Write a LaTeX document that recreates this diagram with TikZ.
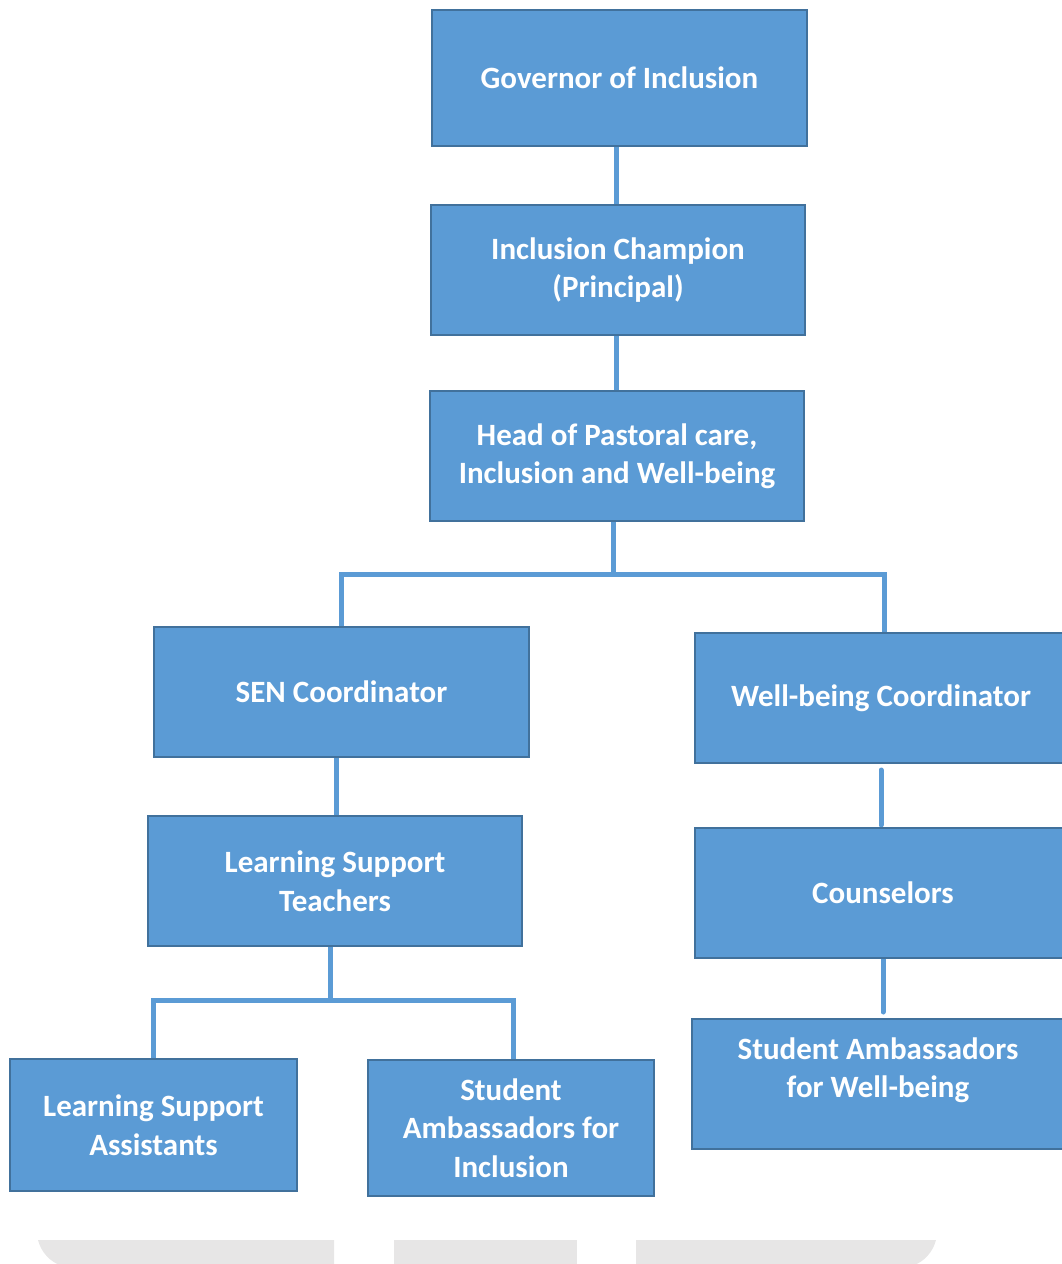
\documentclass[tikz,border=0pt]{standalone}
\usepackage{fontspec}
\setmainfont{Carlito}
\usetikzlibrary{backgrounds}
\definecolor{boxfill}{HTML}{5B9BD5}
\definecolor{boxline}{HTML}{41719C}
\definecolor{barfill}{HTML}{E7E6E6}
\begin{document}
\begin{tikzpicture}[x=1pt,y=-1pt,
  box/.style={draw=boxline, line width=2pt, fill=boxfill, text=white,
    font=\bfseries\fontsize{31}{38.5}\selectfont, align=center,
    inner sep=0pt, anchor=north west},
  lbl/.style={text=white, font=\bfseries\fontsize{31}{38.5}\selectfont, align=center, inner sep=0pt},
  conn/.style={draw=boxfill, line width=5pt, line cap=round}]
\useasboundingbox (0,0) rectangle (1062,1264);
\clip (0,0) rectangle (1062,1264);
% bottom grey bars
\fill[barfill] (38,1240) -- (334,1240) -- (334,1266) -- (62,1266)
  .. controls (50,1262) and (41,1252) .. (38,1240) -- cycle;
\fill[barfill] (394,1240) rectangle (577,1266);
\fill[barfill] (636,1240) -- (936,1240) .. controls (933,1252) and (924,1262) .. (912,1266)
  -- (636,1266) -- cycle;
% boxes
\node[box, minimum width=375pt, minimum height=136pt] (gov) at (431,9) {Governor of Inclusion};
\node[box, minimum width=374pt, minimum height=130pt] (champ) at (430,204) {Inclusion Champion\\(Principal)};
\node[box, minimum width=374pt, minimum height=130pt] (head) at (429,390) {Head of Pastoral care,\\Inclusion and Well-being};
\node[box, minimum width=375pt, minimum height=130pt] (sen) at (153,626) {SEN Coordinator};
\node[box, minimum width=372pt, minimum height=130pt] (wb) at (694,632) {Well-being Coordinator};
\node[box, minimum width=374pt, minimum height=130pt] (lst) at (147,815) {Learning Support\\Teachers};
\node[box, minimum width=376pt, minimum height=130pt] (couns) at (694,827) {Counselors};
\node[box, minimum width=287pt, minimum height=132pt] (lsa) at (9,1058) {Learning Support\\Assistants};
\node[box, minimum width=286pt, minimum height=136pt] (sai) at (367,1059) {Student\\Ambassadors for\\Inclusion};
\node[box, minimum width=374pt, minimum height=130pt] (sawb) at (691,1018) {};
\node[lbl] (sawbt) at (878,1070) {Student Ambassadors\\for Well-being};
% connectors
\begin{pgfonlayer}{background}
\draw[conn] ([xshift=-3pt]gov.south) -- ([xshift=-3pt]gov.south |- champ.north);
\draw[conn] ([xshift=-2pt]champ.south) -- ([xshift=-2pt]champ.south |- head.north);
\coordinate (hbar) at (613,574);
\draw[conn] (hbar |- head.south) -- (hbar);
\draw[conn] (sen.north) -- (sen.north |- hbar) -| ([xshift=3pt]wb.north);
\draw[conn] ([xshift=1pt]lst.north) -- ([xshift=1pt]lst.north |- sen.south);
\draw[conn, shorten <=6pt, shorten >=2pt] (wb.south) -- (wb.south |- couns.north);
\draw[conn, shorten >=6pt] (couns.south) -- (couns.south |- sawb.north);
\coordinate (lbar) at (330,1000);
\draw[conn] (lbar |- lst.south) -- (lbar);
\draw[conn] (lsa.north) -- (lsa.north |- lbar) -| ([xshift=2pt]sai.north);
\end{pgfonlayer}
\end{tikzpicture}
\end{document}
